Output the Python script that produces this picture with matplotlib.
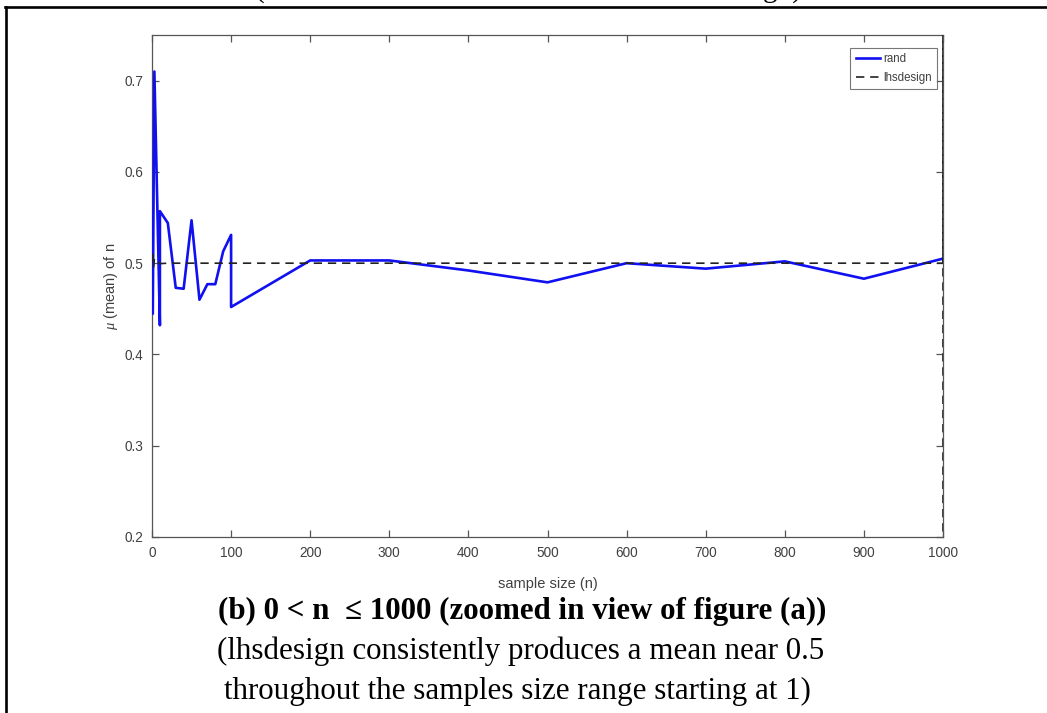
import matplotlib
matplotlib.use("Agg")
import matplotlib.pyplot as plt
from matplotlib.lines import Line2D

# ---- data ----
rand_n = [1, 3, 10, 10, 20, 30, 40, 50, 60, 70, 80, 90, 100, 100,
          200, 300, 400, 500, 600, 700, 800, 900, 1000]
rand_mu = [0.445, 0.71, 0.432, 0.557, 0.544, 0.473, 0.472, 0.547, 0.460,
           0.477, 0.477, 0.513, 0.531, 0.452,
           0.503, 0.503, 0.492, 0.479, 0.500, 0.494, 0.502, 0.483, 0.505]
lhs_n = [1, 2, 3, 10, 20, 100, 1000, 1000, 1000]
lhs_mu = [0.51, 0.495, 0.505, 0.4995, 0.5, 0.5, 0.5, 0.80, 0.10]

xticks = [0, 100, 200, 300, 400, 500, 600, 700, 800, 900, 1000]
yticks = [0.2, 0.3, 0.4, 0.5, 0.6, 0.7]

W, H = 1047, 713
fig = plt.figure(figsize=(W / 100, H / 100), dpi=100)
fig.patch.set_facecolor("white")

sans = ["Liberation Sans", "DejaVu Sans"]
plt.rcParams["font.family"] = sans
plt.rcParams["mathtext.fontset"] = "custom"
plt.rcParams["mathtext.it"] = "Liberation Serif:italic"

ax = fig.add_axes([152 / W, (H - 537) / H, 791 / W, 502 / H])
ax.plot(rand_n, rand_mu, color="#1010f0", lw=1.9, label="rand", zorder=3)
ax.plot(lhs_n, lhs_mu, color="#222222", lw=1.2, ls=(0, (5, 3.5)),
        label="lhsdesign", zorder=4)

ax.set_xlim(0, 1000)
ax.set_ylim(0.2, 0.75)
ax.set_xticks(xticks)
ax.set_yticks(yticks)
ax.set_xticklabels([str(t) for t in xticks])
ax.set_yticklabels([f"{t:.1f}" for t in yticks])

grey = "#404040"
for s in ax.spines.values():
    s.set_color("#555555")
    s.set_linewidth(0.9)
ax.tick_params(direction="in", top=True, right=True, length=5, width=0.9,
               colors="#555555", labelcolor=grey, labelsize=9.8, pad=6.5)

ax.set_xlabel("sample size (n)", fontsize=10.5, color=grey, labelpad=12)
ax.set_ylabel(r"$\mu$ (mean) of n", fontsize=10.5, color=grey, labelpad=3)

leg = ax.legend(loc="upper right", bbox_to_anchor=(0.9924, 0.974),
                borderaxespad=0.0, fontsize=8.3, frameon=True, fancybox=False,
                handlelength=2.1, handletextpad=0.3,
                borderpad=0.45, labelspacing=0.55)
leg.get_frame().set_edgecolor("#555555")
leg.get_frame().set_linewidth(0.8)
for t in leg.get_texts():
    t.set_color(grey)

# ---- page borders (table cell) ----
fig.add_artist(Line2D([6 / W, 6 / W], [0, 1 - 7 / H], transform=fig.transFigure,
                      color="black", lw=1.9))
fig.add_artist(Line2D([5 / W, 1], [1 - 7 / H, 1 - 7 / H], transform=fig.transFigure,
                      color="black", lw=1.9))

serif = ["Liberation Serif", "DejaVu Serif"]
# clipped caption of previous figure at top
fig.text(528 / W, 1 + 2 / H, "(Simulation results of both rand and lhsdesign)",
         ha="center", va="baseline", fontsize=21, family=serif)

fig.text(522 / W, 1 - 611 / H, "(b) 0 < n  \u2264 1000 (zoomed in view of figure (a))",
         ha="center", va="center", fontsize=22.3, fontweight="bold", family=serif)
fig.text(521 / W, 1 - 651 / H, "(lhsdesign consistently produces a mean near 0.5",
         ha="center", va="center", fontsize=22.3, family=serif)
fig.text(517 / W, 1 - 691 / H, "throughout the samples size range starting at 1)",
         ha="center", va="center", fontsize=22.3, family=serif)

fig.savefig("out.png", dpi=100)
